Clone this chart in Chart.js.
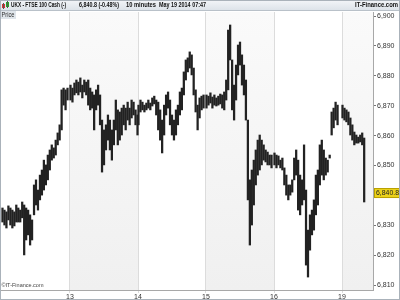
<!DOCTYPE html>
<html lang="en">
<head>
  <meta charset="UTF-8" />
  <title>UKX - FTSE 100 Cash</title>
  <style>
    html, body { margin: 0; padding: 0; background: #fff; }
    #wrap { width: 400px; height: 300px; position: relative; }
  </style>
</head>
<body>
  <div id="wrap"><canvas id="chart" width="400" height="300"></canvas></div>

  <script src="https://cdn.jsdelivr.net/npm/chart.js"></script>
  <script>
    // 10 minute bars, one row of highs / lows per trading day
    const dayNames = ['12', '13', '14', '15', '16', '19'];
    const barsPerDay = [34, 35, 34, 34, 33, 12];

    const highs = [
      // 12
      6835.8, 6835.1, 6834.5, 6836.5, 6835.8, 6835.1, 6834.5, 6836.8, 6835.8, 6835.1, 6837.8, 6836.8,
      6835.8, 6835.1, 6833.5, 6831.8, 6843.5, 6845.2, 6841.8, 6846.8, 6848.5, 6851.8, 6850.2, 6853.5,
      6855.2, 6856.9, 6855.9, 6858.5, 6860.9, 6863.6, 6875.3, 6875.9, 6875.3, 6875.9,
      // 13
      6876.9, 6875.9, 6877.6, 6878.6, 6877.9, 6879.3, 6876.9, 6878.6, 6877.9, 6878.6, 6875.9, 6874.6,
      6873.6, 6875.3, 6876.9, 6873.6, 6865.2, 6861.9, 6863.6, 6866.9, 6865.2, 6861.9, 6865.2, 6871.9,
      6868.6, 6867.9, 6869.2, 6870.2, 6869.2, 6871.2, 6869.2, 6871.9, 6871.2, 6868.6, 6866.9,
      // 14
      6870.2, 6871.9, 6871.2, 6870.2, 6870.9, 6871.9, 6870.9, 6872.6, 6873.2, 6871.9, 6871.2, 6868.6,
      6865.2, 6870.2, 6873.6, 6874.6, 6871.9, 6866.9, 6865.2, 6868.6, 6870.2, 6874.6, 6875.9, 6881.3,
      6885.3, 6886.0, 6888.0, 6887.0, 6882.6, 6875.3, 6870.2, 6872.6, 6873.2, 6873.6,
      // 15
      6873.6, 6873.2, 6874.3, 6872.9, 6873.6, 6872.6, 6873.2, 6873.9, 6873.6, 6874.6, 6878.6, 6895.3,
      6897.0, 6885.3, 6876.9, 6883.6, 6890.3, 6891.3, 6887.0, 6883.6, 6878.6, 6865.2, 6845.2, 6848.5,
      6851.8, 6855.2, 6858.5, 6860.2, 6858.5, 6856.9, 6855.2, 6854.5, 6853.5, 6853.5,
      // 16
      6854.2, 6853.5, 6853.2, 6851.8, 6852.5, 6849.2, 6846.8, 6843.5, 6843.5, 6845.2, 6852.5, 6855.2,
      6851.8, 6846.8, 6845.2, 6856.9, 6841.8, 6828.4, 6833.5, 6835.1, 6838.5, 6846.8, 6848.5, 6856.9,
      6858.5, 6855.2, 6852.5, 6851.8, 6853.5, 6867.9, 6869.2, 6871.2, 6870.2,
      // 19
      6870.2, 6869.2, 6868.6, 6867.9, 6865.9, 6863.6, 6861.2, 6860.2, 6859.5, 6860.2, 6860.9, 6859.2
    ];

    const lows = [
      // 12
      6831.1, 6830.1, 6829.1, 6831.8, 6830.1, 6829.1, 6829.8, 6831.1, 6831.1, 6831.1, 6832.5, 6820.1,
      6825.1, 6826.8, 6823.4, 6825.1, 6833.5, 6836.8, 6835.1, 6838.5, 6840.1, 6841.8, 6843.5, 6845.2,
      6848.5, 6851.8, 6852.5, 6853.5, 6856.9, 6858.5, 6861.9, 6870.2, 6868.6, 6871.9,
      // 13
      6871.9, 6871.2, 6873.6, 6874.3, 6873.6, 6874.6, 6872.6, 6874.6, 6873.6, 6870.2, 6868.6, 6869.2,
      6861.9, 6868.6, 6870.2, 6863.6, 6847.8, 6850.2, 6855.2, 6858.5, 6855.2, 6851.8, 6856.9, 6861.9,
      6856.9, 6858.5, 6860.2, 6863.6, 6861.9, 6865.2, 6863.6, 6865.9, 6866.9, 6863.6, 6860.2,
      // 14
      6863.6, 6867.9, 6868.6, 6867.9, 6868.6, 6869.2, 6868.6, 6869.9, 6870.6, 6866.9, 6861.9, 6858.5,
      6854.2, 6860.2, 6866.9, 6869.2, 6863.6, 6860.2, 6858.5, 6860.2, 6863.6, 6866.9, 6868.6, 6873.6,
      6878.6, 6881.3, 6882.6, 6880.3, 6873.6, 6867.9, 6861.9, 6865.9, 6868.6, 6869.2,
      // 15
      6869.2, 6870.2, 6870.9, 6869.2, 6870.2, 6869.9, 6870.2, 6870.6, 6869.2, 6868.6, 6871.9, 6875.3,
      6885.3, 6868.6, 6865.2, 6871.9, 6880.3, 6883.6, 6876.9, 6873.6, 6865.2, 6838.5, 6823.4, 6830.1,
      6836.8, 6843.5, 6846.8, 6848.5, 6850.2, 6851.8, 6851.2, 6850.2, 6850.2, 6849.2,
      // 16
      6850.2, 6849.2, 6850.2, 6849.2, 6848.5, 6843.5, 6840.1, 6838.5, 6840.1, 6841.1, 6845.2, 6846.8,
      6835.1, 6833.5, 6836.8, 6838.5, 6816.7, 6812.7, 6821.7, 6826.8, 6828.4, 6833.5, 6836.8, 6843.5,
      6846.8, 6845.2, 6846.8, 6847.8, 6852.5, 6860.2, 6862.6, 6865.2, 6863.6,
      // 19
      6865.9, 6865.2, 6864.6, 6863.6, 6860.2, 6858.5, 6856.9, 6857.5, 6857.5, 6857.9, 6856.9, 6837.8
    ];

    const xTickValues = [1, 2, 3, 4, 5];
    const xTickLabels = ['13', '14', '15', '16', '19'];
    const yTickValues = [6810, 6820, 6830, 6840, 6850, 6860, 6870, 6880, 6890, 6900];
    const shadedDays = [1, 3, 5];
    const lastPrice = 6840.8;

    // bar position = day number + slot inside the day
    const slotsPerDay = 34.5;
    const bars = [];
    let k = 0;
    barsPerDay.forEach((n, d) => {
      for (let i = 0; i < n; i++) {
        bars.push({ x: d + (i + 0.25) / slotsPerDay, y: [lows[k], highs[k]] });
        k++;
      }
    });

    const FONT = 'Liberation Sans, Arial, sans-serif';

    const decor = {
      id: 'decor',
      beforeDraw(chart) {
        const { ctx, chartArea: a, scales: { x } } = chart;
        ctx.save();
        const g = ctx.createLinearGradient(0, a.top, 0, a.bottom);
        g.addColorStop(0, '#fafafa');
        g.addColorStop(1, '#f0f0f0');
        ctx.fillStyle = g;
        shadedDays.forEach(d => {
          const x0 = Math.max(a.left, x.getPixelForValue(d));
          const x1 = Math.min(a.right, x.getPixelForValue(d + 1));
          ctx.fillRect(x0, a.top, x1 - x0, a.bottom - a.top);
        });
        ctx.restore();
      },
      afterDraw(chart) {
        const { ctx, chartArea: a, scales: { y } } = chart;
        const W = chart.width, H = chart.height;
        ctx.save();

        // header strip
        const hg = ctx.createLinearGradient(0, 0, 0, 10);
        hg.addColorStop(0, '#f3f5f8');
        hg.addColorStop(1, '#dde3e9');
        ctx.fillStyle = hg;
        ctx.fillRect(0, 0, W, 10);
        ctx.fillStyle = '#b9c1c9';
        ctx.fillRect(0, 10, W, 1);

        // little candle icon
        ctx.fillStyle = '#d33';
        ctx.fillRect(2, 4, 3, 4);
        ctx.fillStyle = '#2a2';
        ctx.fillRect(6, 2, 3, 5);
        ctx.fillStyle = '#555';
        ctx.fillRect(3, 3, 1, 6);
        ctx.fillRect(7, 1, 1, 7);

        ctx.fillStyle = '#111';
        ctx.font = 'bold 7px ' + FONT;
        ctx.textBaseline = 'middle';
        ctx.textAlign = 'left';
        ctx.fillText('UKX - FTSE 100 Cash (-)', 11, 5.5, 55);
        ctx.fillText('6,840.8 (-0.48%)', 79, 5.5, 40);
        ctx.fillText('10 minutes', 126, 5.5, 30);
        ctx.fillText('May 19 2014 07:47', 159, 5.5, 47);
        ctx.textAlign = 'right';
        ctx.fillText('IT-Finance.com', 398, 5.5, 43);

        // "Price" tag
        ctx.fillStyle = '#dfe5ea';
        ctx.fillRect(0, 11, 16, 8);
        ctx.fillStyle = '#333';
        ctx.font = '6.5px ' + FONT;
        ctx.textAlign = 'left';
        ctx.fillText('Price', 1.5, 15.5, 13);

        // copyright
        ctx.fillStyle = '#444';
        ctx.font = '6px ' + FONT;
        ctx.fillText('\u00a9IT-Finance.com', 1.5, 285.5, 42);

        // last price marker
        const py = y.getPixelForValue(lastPrice);
        ctx.fillStyle = '#ecd21a';
        ctx.fillRect(a.right + 1, py - 5, 26, 10);
        ctx.strokeStyle = '#b9a000';
        ctx.lineWidth = 1;
        ctx.strokeRect(a.right + 1.5, py - 4.5, 25, 9);
        ctx.fillStyle = '#222';
        ctx.font = '7px ' + FONT;
        ctx.fillText('6,840.8', a.right + 3, py + 0.5, 23);

        // outer frame
        ctx.strokeStyle = '#aab2ba';
        ctx.strokeRect(0.5, 0.5, W - 1, H - 1);
        ctx.restore();
      }
    };

    new Chart(document.getElementById('chart'), {
      type: 'bar',
      data: {
        datasets: [{
          label: 'UKX',
          data: bars,
          backgroundColor: '#222',
          borderWidth: 0,
          barThickness: 1.6,
          grouped: false
        }]
      },
      options: {
        responsive: false,
        animation: false,
        layout: { padding: { top: 12, left: 1, right: 0, bottom: 0 } },
        plugins: { legend: { display: false }, tooltip: { enabled: false } },
        scales: {
          x: {
            type: 'linear',
            offset: false,
            min: -1 / 68,
            max: 5 + 31 / 68,
            afterBuildTicks: s => { s.ticks = xTickValues.map(v => ({ value: v })); },
            afterFit: s => { s.height = 10; },
            grid: { offset: false, color: '#dcdcdc', tickLength: 3, drawOnChartArea: true },
            border: { color: '#a8a8a8' },
            ticks: {
              autoSkip: false, maxRotation: 0, padding: 0, color: '#333',
              font: { family: FONT, size: 7 },
              callback: (v, i) => xTickLabels[i]
            }
          },
          y: {
            position: 'right',
            min: 6808.37,
            max: 6901.34,
            afterBuildTicks: s => { s.ticks = yTickValues.map(v => ({ value: v })); },
            afterFit: s => { s.width = 27; },
            grid: { drawOnChartArea: false, color: '#777', tickLength: 3 },
            border: { color: '#a8a8a8' },
            ticks: {
              padding: 1, color: '#333',
              font: { family: FONT, size: 7 },
              callback: v => v.toLocaleString('en-US')
            }
          }
        }
      },
      plugins: [decor]
    });
  </script>
</body>
</html>
